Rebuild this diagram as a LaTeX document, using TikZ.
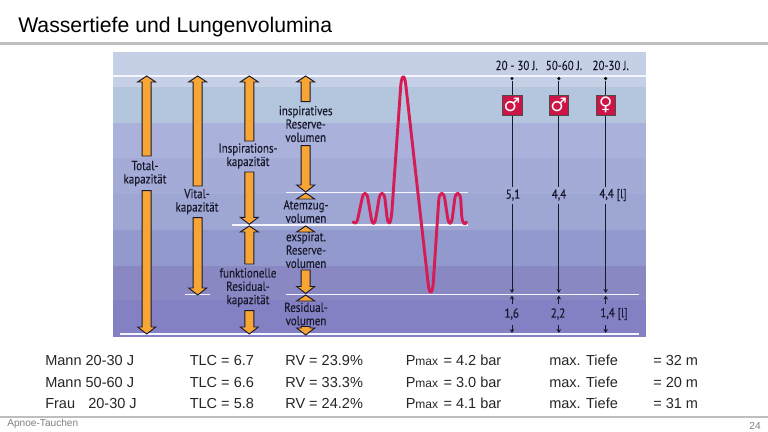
\documentclass[tikz,border=0pt]{standalone}
\usepackage{fontspec}
\setmainfont{Liberation Sans}
\newfontfamily\condfont[FakeStretch=0.84,FakeBold=0.25]{PT Sans}
\newfontfamily\symfont{DejaVu Sans}
\usetikzlibrary{arrows.meta}
\definecolor{blockorange}{RGB}{247,165,53}
\definecolor{curvered}{RGB}{214,28,84}
\definecolor{boxred}{RGB}{205,20,70}
\definecolor{rulegray}{RGB}{190,190,190}
\definecolor{darkink}{RGB}{25,25,45}
\tikzset{
  blockarrow/.style={draw=darkink,line width=0.7pt,fill=blockorange,line join=miter},
  lab/.style={font=\condfont\fontsize{9.8}{10}\selectfont,text=darkink,align=center,inner sep=0pt},
  rowtext/.style={font=\fontsize{10.9}{13}\selectfont,text=black!85,anchor=base west,inner sep=0pt},
  whiteline/.style={draw=white!96!blue,line width=1.3pt},
  stem/.style={draw=darkink,line width=0.7pt},
  dotstem/.style={fill=black,circle,inner sep=0pt,minimum size=2.6pt},
  tinyarrow/.style={draw=darkink,line width=0.7pt,-{Stealth[length=3pt,width=3.4pt]}},
  genderbox/.style={draw=black!70,line width=0.5pt,fill=boxred,minimum size=14.8pt,inner sep=0pt},
  rulebar/.style={draw=rulegray,line width=1.7pt},
}
\newcommand\blockdown[3]{\draw[blockarrow] ({#1-4.5},#2) -- ({#1+4.5},#2) -- ({#1+4.5},{#3-7}) -- ({#1+9},{#3-7}) -- (#1,#3) -- ({#1-9},{#3-7}) -- ({#1-4.5},{#3-7}) -- cycle;}
\newcommand\blockup[3]{\draw[blockarrow] ({#1-4.5},#2) -- ({#1+4.5},#2) -- ({#1+4.5},{#3+6}) -- ({#1+9},{#3+6}) -- (#1,#3) -- ({#1-9},{#3+6}) -- ({#1-4.5},{#3+6}) -- cycle;}
\newcommand\capup[2]{\draw[blockarrow] ({#1-9},{#2+6}) -- (#1,#2) -- ({#1+9},{#2+6}) -- cycle;}
\begin{document}
\begin{tikzpicture}[x=0.75pt,y=-0.75pt]
\useasboundingbox (0,0) rectangle (768,432);
\fill[white] (0,0) rectangle (768,432);
% title
\node[font=\fontsize{15.9}{20}\selectfont,anchor=base west,inner sep=0pt,text=black] (title) at (18,32) {Wassertiefe und Lungenvolumina};
\coordinate (ruleTopL) at (0,43.5); \coordinate (ruleTopR) at (768,43.5);
\draw[rulebar] (ruleTopL) -- (ruleTopR);
% bands
\fill[fill={rgb,255:red,197;green,207;blue,230}] (113,52) rectangle (646,87);
\fill[fill={rgb,255:red,179;green,198;blue,222}] (113,87) rectangle (646,123);
\fill[fill={rgb,255:red,170;green,178;blue,219}] (113,123) rectangle (646,158);
\fill[fill={rgb,255:red,163;green,171;blue,214}] (113,158) rectangle (646,194);
\fill[fill={rgb,255:red,158;green,166;blue,212}] (113,194) rectangle (646,230);
\fill[fill={rgb,255:red,146;green,154;blue,205}] (113,230) rectangle (646,266);
\fill[fill={rgb,255:red,138;green,136;blue,194}] (113,266) rectangle (646,300);
\fill[fill={rgb,255:red,132;green,128;blue,196}] (113,300) rectangle (646,337);
% white lines
\coordinate (a1) at (113,76); \coordinate (a2) at (646,76);
\coordinate (b1) at (286,192.5); \coordinate (b2) at (468,192.5);
\coordinate (c1) at (232,224.7); \coordinate (c2) at (468,224.7);
\coordinate (d1) at (185,294.5); \coordinate (d2) at (210,294.5);
\coordinate (e1) at (286,294.5); \coordinate (e2) at (639,294.5);
\coordinate (f1) at (120,334); \coordinate (f2) at (639,334);
\foreach \p/\q in {a1/a2,b1/b2,c1/c2,d1/d2,e1/e2,f1/f2} \draw[whiteline] (\p) -- (\q);
% block arrows
\blockup{146.7}{156}{76}
\blockdown{146.7}{190.7}{334}
\blockup{197.7}{186}{76}
\blockdown{197.7}{217.7}{295}
\blockup{249.3}{141}{76}
\blockdown{249.3}{172}{224.3}
\blockup{249.3}{264}{226}
\blockdown{249.3}{310.7}{334}
\blockup{305.7}{101.7}{76}
\blockdown{305.7}{145.7}{192}
\capup{305.7}{193}
\capup{305.7}{226}
\blockdown{305.7}{270}{293.5}
\capup{305.7}{295}
\blockdown{305.7}{326.5}{335}
% labels
\node[lab] (total) at (145,173.5) {Total-\\kapazität};
\node[lab] (vital) at (197,201.5) {Vital-\\kapazität};
\node[lab] (insp) at (248,156) {Inspirations-\\kapazität};
\node[lab] (func) at (248,287.5) {funktionelle\\Residual-\\kapazität};
\node[lab] (irv) at (305.7,124) {inspiratives\\Reserve-\\volumen};
\node[lab] (atem) at (306,211.5) {Atemzug-\\volumen};
\node[lab] (erv) at (306,250) {exspirat.\\Reserve-\\volumen};
\node[lab] (resv) at (306,314) {Residual-\\volumen};
% breathing curve
\newcommand\peak[5]{-- (#1,#3) .. controls ({#1+1.2},#5) and ({#2-1.2},#5) .. (#2,#4)}
\draw[draw=curvered,line width=2.2pt,line cap=round,line join=round]
  (353,222) .. controls (355,223.5) and (356,224) .. (357.5,220)
  \peak{362}{368}{199}{199}{191.5}
  \peak{371}{376}{217}{217}{225.5}
  \peak{379}{385}{199}{199}{191.5}
  \peak{387}{392}{217}{210}{226}
  \peak{400.8}{405.8}{85}{85}{74}
  \peak{428.2}{433.2}{284}{284}{295}
  \peak{438.8}{444.8}{199}{199}{191.5}
  \peak{447.5}{452.5}{217}{217}{225.5}
  \peak{454.7}{460.7}{199}{199}{191.5}
  \peak{461.8}{466.5}{217}{222}{225};
% vertical measures
\foreach \n/\x/\lx/\ly/\topl/\gender in {
  m/512/516.7/70/{20 - 30 J.}/♂,
  o/558.8/564/70/{50-60 J.}/♂,
  w/605.7/610.7/70/{20-30 J.}/♀}{
  \node[lab,anchor=base] (top\n) at (\lx,\ly) {\topl};
  \node[dotstem] (dot\n) at (\x,78.5) {};
  \coordinate (s\n) at (\x,187);
  \draw[stem] (dot\n) -- (s\n);
  \node[genderbox,text=white] (box\n) at (\x,105) {\symfont\fontsize{14}{14}\selectfont\gender};
  \coordinate (s2\n) at (\x,204);
  \coordinate (s3\n) at (\x,293);
  \coordinate (s4\n) at (\x,304);
  \coordinate (s4b\n) at (\x,295.5);
  \coordinate (s5\n) at (\x,325);
  \coordinate (s6\n) at (\x,333);
  \draw[tinyarrow] (s2\n) -- (s3\n);
  \draw[tinyarrow] (s4\n) -- (s4b\n);
  \draw[tinyarrow] (s5\n) -- (s6\n);
}
\node[lab] (v1) at (513,195) {5,1};
\node[lab] (v2) at (559,195) {4,4};
\node[lab] (v3) at (613,195) {4,4 [l]};
\node[lab] (r1) at (511.7,314) {1,6};
\node[lab] (r2) at (558,314) {2,2};
\node[lab] (r3) at (614,314) {1,4 [l]};
% table
\newcommand\pmaxtxt{P{\fontsize{9}{10}\selectfont max}\hspace{1pt}}
\node[rowtext] (t11) at (45,365) {Mann 20-30 J};
\node[rowtext] (t12) at (189.5,365) {TLC = 6.7};
\node[rowtext] (t13) at (285,365) {RV = 23.9\%};
\node[rowtext] (t14) at (405.5,365) {\pmaxtxt{} = 4.2 bar};
\node[rowtext] (t15) at (549,365) {max. Tiefe};
\node[rowtext] (t16) at (653,365) {= 32 m};
\node[rowtext] (t21) at (45,387) {Mann 50-60 J};
\node[rowtext] (t22) at (189.5,387) {TLC = 6.6};
\node[rowtext] (t23) at (285,387) {RV = 33.3\%};
\node[rowtext] (t24) at (405.5,387) {\pmaxtxt{} = 3.0 bar};
\node[rowtext] (t25) at (549,387) {max. Tiefe};
\node[rowtext] (t26) at (653,387) {= 20 m};
\node[rowtext] (t31a) at (45,408) {Frau};
\node[rowtext] (t31b) at (88,408) {20-30 J};
\node[rowtext] (t32) at (189.5,408) {TLC = 5.8};
\node[rowtext] (t33) at (285,408) {RV = 24.2\%};
\node[rowtext] (t34) at (405.5,408) {\pmaxtxt{} = 4.1 bar};
\node[rowtext] (t35) at (549,408) {max. Tiefe};
\node[rowtext] (t36) at (653,408) {= 31 m};
% footer
\coordinate (ruleBotL) at (0,417); \coordinate (ruleBotR) at (768,417);
\draw[rulebar] (ruleBotL) -- (ruleBotR);
\node[font=\fontsize{7.6}{9}\selectfont,text=black!50,anchor=base west,inner sep=0pt] (foot) at (7,426) {Apnoe-Tauchen};
\node[font=\fontsize{7.6}{9}\selectfont,text=black!50,anchor=base east,inner sep=0pt] (page) at (761,429) {24};
\end{tikzpicture}
\end{document}
